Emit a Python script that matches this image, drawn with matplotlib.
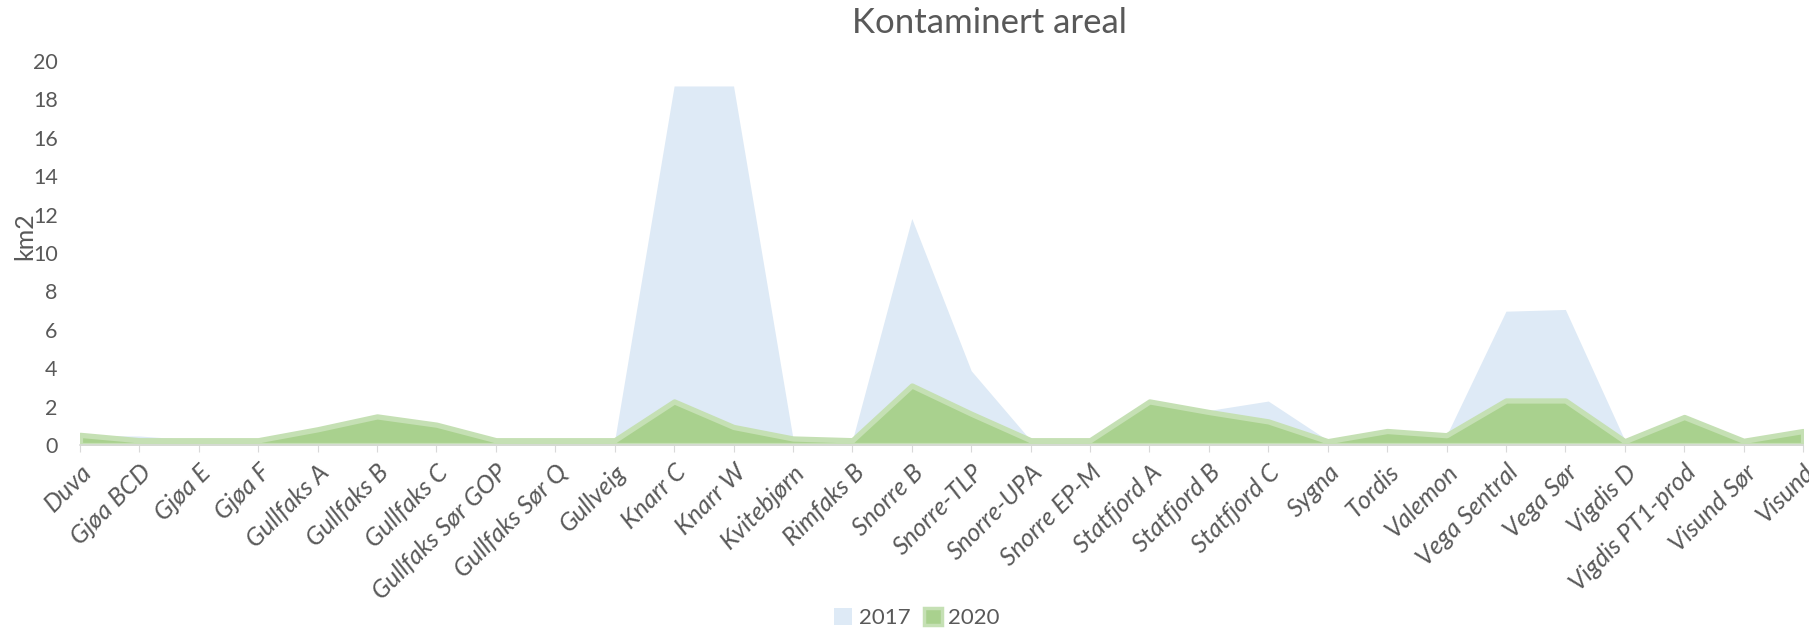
import numpy as np
import matplotlib
matplotlib.use("Agg")
import matplotlib.pyplot as plt
from matplotlib.patches import Patch

# data
felt = ["Duva", "Gjøa BCD", "Gjøa E", "Gjøa F", "Gullfaks A", "Gullfaks B",
        "Gullfaks C", "Gullfaks Sør GOP", "Gullfaks Sør Q", "Gullveig",
        "Knarr C", "Knarr W", "Kvitebjørn", "Rimfaks B", "Snorre B",
        "Snorre-TLP", "Snorre-UPA", "Snorre EP-M", "Statfjord A",
        "Statfjord B", "Statfjord C", "Sygna", "Tordis", "Valemon",
        "Vega Sentral", "Vega Sør", "Vigdis D", "Vigdis PT1-prod",
        "Visund Sør", "Visund"]
areal_2017 = [0.5, 0.47, 0.25, 0.25, 0.6, 1.2, 0.8, 0.25, 0.25, 0.25,
              18.7, 18.7, 0.35, 0.25, 11.8, 3.87, 0.25, 0.25, 2.0,
              1.8, 2.29, 0.25, 0.5, 0.5, 6.97, 7.06, 0.25, 1.2,
              0.2, 0.5]
areal_2020 = [0.53, 0.25, 0.25, 0.25, 0.82, 1.49, 1.06, 0.25, 0.25, 0.25,
              2.27, 0.94, 0.34, 0.25, 3.1, 1.63, 0.25, 0.25, 2.27,
              1.72, 1.23, 0.2, 0.73, 0.51, 2.32, 2.32, 0.2, 1.46,
              0.22, 0.73]
yticks = list(range(0, 21, 2))

blue = "#DEEAF6"
green = "#A9D18E"
green_edge = "#C5E0B4"
grey = "#595959"

plt.rcParams["font.family"] = ["Lato", "DejaVu Sans"]

fig = plt.figure(figsize=(18.09, 6.29), dpi=100)
ax = fig.add_axes([0.0442, 0.2925, 0.9525, 0.6105])

x = np.arange(len(felt))
ax.fill_between(x, 0, areal_2017, color=blue, linewidth=0, zorder=1)
ax.fill_between(x, 0, areal_2020, facecolor=green, edgecolor=green_edge,
                linewidth=3.8, zorder=2)

ax.set_xlim(0, len(felt) - 1)
ax.set_ylim(0, 20)
ax.set_yticks(yticks)
ax.set_xticks(x)
ax.set_xticklabels(felt, rotation=45, ha="right", rotation_mode="anchor",
                   fontsize=18, color=grey, style="italic")
ax.tick_params(axis="y", length=0, labelsize=15.5, labelcolor=grey, pad=16)
ax.tick_params(axis="x", length=5, color="#D9D9D9", pad=6)

for s in ["top", "right", "left"]:
    ax.spines[s].set_visible(False)
ax.spines["bottom"].set_color("#D9D9D9")
ax.spines["bottom"].set_linewidth(1.2)

ax.set_ylabel("km2", fontsize=18, color=grey)
ax.yaxis.set_label_coords(-0.0255, 0.544)
fig.text(0.547, 0.963, "Kontaminert areal", ha="center", va="center",
         fontsize=25, color=grey)

handles = [Patch(facecolor=blue, edgecolor="none", label="2017"),
           Patch(facecolor=green, edgecolor=green_edge, linewidth=2.5, label="2020")]
fig.legend(handles=handles, loc="center", bbox_to_anchor=(0.507, 0.017),
           ncol=2, frameon=False, fontsize=16, labelcolor=grey,
           handlelength=0.8, handleheight=0.8, handletextpad=0.3, columnspacing=0.6)

fig.savefig("out.png", dpi=100)
